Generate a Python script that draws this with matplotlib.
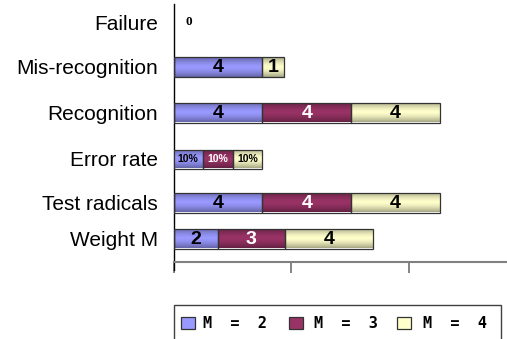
import numpy as np
import matplotlib
matplotlib.use("Agg")
import matplotlib.pyplot as plt
from matplotlib.patches import Rectangle

# ---- data ----
categories = ["Failure", "Mis-recognition", "Recognition", "Error rate",
              "Test radicals", "Weight M"]
series_names = ["M = 2", "M = 3", "M = 4"]
m2_counts = [0, 4, 4, None, 4, 2]
m3_counts = [0, 0, 4, None, 4, 3]
m4_counts = [0, 1, 4, None, 4, 4]
error_rate_pct = [10, 10, 10]          # percent, per series

# ---- style ----
colors = ["#9999FF", "#993366", "#FFFFCC"]
text_colors = ["black", "white", "black"]
row_pos = [22, 67, 112.5, 159, 202.5, 238.5]   # row centres, px from top
bar_h = 20

W, H = 507, 339
fig = plt.figure(figsize=(W / 100, H / 100), dpi=100)
ax_l, ax_t, ax_b = 173.5, 4, 261.5
ax = fig.add_axes([ax_l / W, 1 - ax_b / H, 1 - ax_l / W, (ax_b - ax_t) / H])
ax2 = ax.twiny()

px_per_unit = 22.2
x_max = (W - ax_l) / px_per_unit
pct_max = 10 * (W - ax_l) / 29.5       # 10% spans ~29.5 px


def shade(axis, patch, base):
    """Vertical gradient fill clipped to a bar, darker at top and bottom."""
    x0, y0 = patch.get_x(), patch.get_y()
    w, h = patch.get_width(), patch.get_height()
    if w <= 0:
        return
    t = np.linspace(0, 1, 64)
    f = 1 - 0.35 * np.abs(2 * t - 1) ** 1.5
    rgb = np.array(matplotlib.colors.to_rgb(base))
    img = (rgb[None, :] * f[:, None])[:, None, :]
    im = axis.imshow(img, extent=[x0, x0 + w, y0 + h, y0], aspect="auto",
                     interpolation="bilinear", zorder=2)
    im.set_clip_path(patch)


series_counts = [m2_counts, m3_counts, m4_counts]
left = np.zeros(len(categories))
for si, counts in enumerate(series_counts):
    for ci, v in enumerate(counts):
        if v is None:
            continue
        if v > 0:
            bars = ax.barh(row_pos[ci], v, left=left[ci], height=bar_h,
                           color=colors[si], edgecolor="#333333",
                           linewidth=0.9, zorder=3)
            p = bars[0]
            p.set_facecolor("none")
            shade(ax, p, colors[si])
            ax.text(left[ci] + v / 2, row_pos[ci] + 0.5, str(v),
                    ha="center", va="center", fontsize=14,
                    fontweight="bold", color=text_colors[si],
                    family="Liberation Sans", zorder=4)
        left[ci] += v

# Failure row: all series are zero
fail_total = m2_counts[0] + m3_counts[0] + m4_counts[0]
ax.annotate(str(fail_total), (fail_total, row_pos[0]), xytext=(15.5, 0),
            textcoords="offset pixels", ha="center", va="center",
            fontsize=9.5, fontweight="bold", family="Liberation Serif")

# Error rate row on the percent axis
er_left = 0
er_row = row_pos[3]
for si, v in enumerate(error_rate_pct):
    bars = ax2.barh(er_row, v, left=er_left, height=19, color=colors[si],
                    edgecolor="#333333", linewidth=0.9, zorder=3)
    p = bars[0]
    p.set_facecolor("none")
    shade(ax2, p, colors[si])
    ax2.text(er_left + v / 2, er_row + 0.5, f"{v}%", ha="center",
             va="center", fontsize=7.5, fontweight="bold",
             color=text_colors[si], family="Liberation Sans", zorder=4)
    er_left += v

ax2.set_xlim(0, pct_max)
ax.set_xlim(0, x_max)
ax.set_ylim(ax_b, ax_t)

# y categories
ax.set_yticks(row_pos)
ax.set_yticklabels(categories, fontsize=15, family="Liberation Sans")
ax.tick_params(axis="y", length=0, pad=11)

# x axis: unlabeled ticks hanging below
ax.set_xticks([0, 5.3, 10.6])
ax.set_xticklabels([])
ax.tick_params(axis="x", length=8, width=1.2, color="#707070",
               direction="out")
for s in ["top", "right"]:
    ax.spines[s].set_visible(False)
ax.spines["bottom"].set_color("#808080")
ax.spines["bottom"].set_linewidth(1.5)
ax.spines["left"].set_color("black")
ax.spines["left"].set_linewidth(1.0)
ax.spines["left"].set_bounds(ax_b + 8, ax_t)
for s in ax2.spines.values():
    s.set_visible(False)
ax2.set_xticks([])
ax.set_facecolor("none")
ax2.set_facecolor("none")


# legend box (drawn in figure pixels, runs off the bottom edge)
def fx(x):
    return x / W


def fy(y):
    return 1 - y / H


fig.add_artist(Rectangle((fx(174), fy(345)), fx(501) - fx(174),
                         fy(305) - fy(345), transform=fig.transFigure,
                         facecolor="white", edgecolor="#404040",
                         linewidth=1.0))
patch_x = [180.5, 288.5, 397]
text_x = [203, 314, 423]
for si, name in enumerate(series_names):
    fig.add_artist(Rectangle((fx(patch_x[si]), fy(329)), fx(14), 12 / H,
                             transform=fig.transFigure,
                             facecolor=colors[si], edgecolor="#333333",
                             linewidth=0.9))
    fig.text(fx(text_x[si]), fy(323.5), name.replace(" ", "  "),
             ha="left", va="center", fontsize=11, fontweight="bold",
             family="DejaVu Sans Mono")

fig.savefig("out.png", dpi=100)
